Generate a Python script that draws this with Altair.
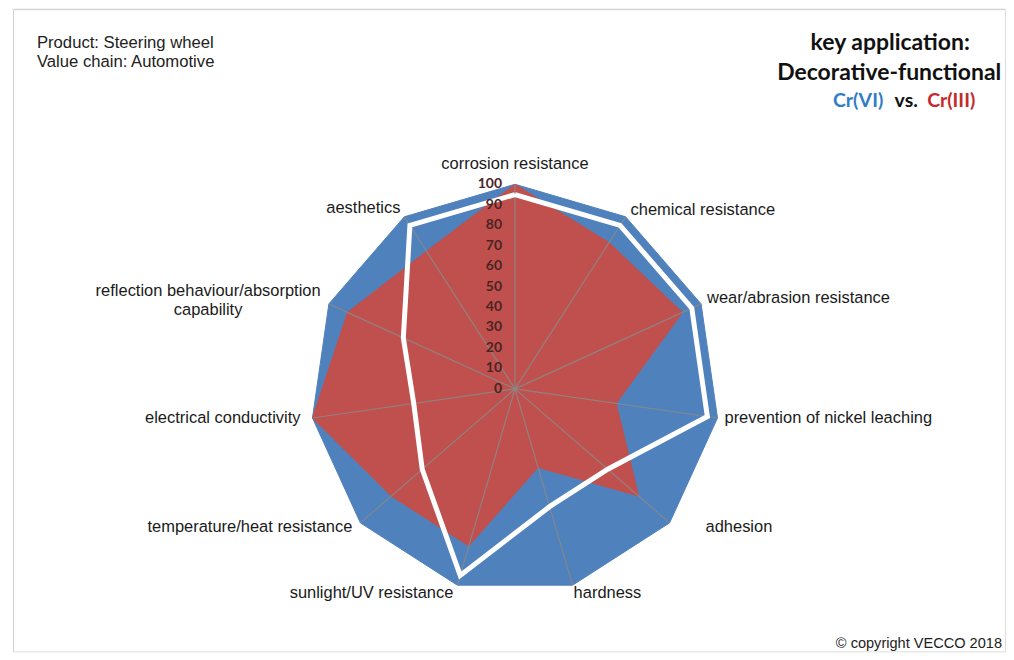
import altair as alt
import pandas as pd

# ---------------- data ----------------
categories = [
    "corrosion resistance",
    "chemical resistance",
    "wear/abrasion resistance",
    "prevention of nickel leaching",
    "adhesion",
    "hardness",
    "sunlight/UV resistance",
    "temperature/heat resistance",
    "electrical conductivity",
    "reflection behaviour/absorption\ncapability",
    "aesthetics",
]
cr_vi = [100, 100, 100, 100, 100, 100, 100, 100, 100, 100, 100]
cr_iii = [100, 85, 90, 50, 80, 40, 80, 80, 100, 90, 80]
requirement = [95, 95, 95, 95, 60, 60, 95, 60, 50, 60, 95]
tick_values = [0, 10, 20, 30, 40, 50, 60, 70, 80, 90, 100]

N = len(categories)

# ---------------- layout / style ----------------
W, H = 994, 644
CX, CY = 503, 381          # pixel position of the radar centre in plot area
PX = 2.05                  # pixels per value unit
BLUE = "#4F81BD"
RED = "#C0504D"
FONT = "Liberation Sans"

xdom = [-CX / PX, (W - CX) / PX]
ydom = [-(H - CY) / PX, CY / PX]
xscale = alt.Scale(domain=xdom, nice=False, zero=False)
yscale = alt.Scale(domain=ydom, nice=False, zero=False)

rows = []
for name, vals in (("Cr(VI)", cr_vi), ("Cr(III)", cr_iii), ("requirement", requirement)):
    for i in range(N + 1):
        rows.append({"series": name, "idx": i, "value": vals[i % N]})
poly_df = pd.DataFrame(rows)
cat_df = pd.DataFrame({"idx": list(range(N)), "label": categories})
tick_df = pd.DataFrame({"tick": tick_values})

ANG = "datum.idx * 2 * PI / %d" % N


def polar(chart, val="datum.value"):
    return chart.transform_calculate(
        px=f"{val} * sin({ANG})", py=f"{val} * cos({ANG})"
    )


def poly(series):
    return polar(alt.Chart(poly_df).transform_filter(alt.datum.series == series))


enc = dict(
    x=alt.X("px:Q", scale=xscale, axis=None),
    y=alt.Y("py:Q", scale=yscale, axis=None),
    order=alt.Order("idx:Q"),
)

blue = poly("Cr(VI)").mark_line(fill=BLUE, stroke=BLUE, strokeWidth=1).encode(**enc)
red = poly("Cr(III)").mark_line(fill=RED, stroke=RED, strokeWidth=1).encode(**enc)
white = poly("requirement").mark_line(
    stroke="white", strokeWidth=5, strokeJoin="miter"
).encode(**enc)

spokes = (
    alt.Chart(cat_df)
    .transform_calculate(
        zero="0", sx=f"100 * sin({ANG})", sy=f"100 * cos({ANG})"
    )
    .mark_rule(color="#8a8a8a", strokeWidth=1.2, opacity=0.85)
    .encode(
        x=alt.X("zero:Q", scale=xscale, axis=None),
        y=alt.Y("zero:Q", scale=yscale, axis=None),
        x2="sx:Q",
        y2="sy:Q",
    )
)

ticks = (
    alt.Chart(tick_df)
    .transform_calculate(zero="0")
    .mark_text(align="right", baseline="middle", dx=-13, fontSize=14,
               font="Lato", fontWeight="bold", color="#4a2424")
    .encode(
        x=alt.X("zero:Q", scale=xscale, axis=None),
        y=alt.Y("tick:Q", scale=yscale, axis=None),
        text="tick:Q",
    )
)

# label placement (align, dx, dy) for each category around the radar
nudge = {
    0: ("center", 0, -20),
    1: ("left", 5, -7),
    2: ("left", 6, -6),
    3: ("left", 7, 0),
    4: ("left", 36, 4),
    5: ("left", 1, 8),
    6: ("right", -4, 8),
    7: ("right", -8, 4),
    8: ("right", -12, 0),
    9: ("center", -121, -13),
    10: ("right", -4, -9),
}
label_layers = []
for i, (al, dx, dy) in nudge.items():
    label_layers.append(
        polar(alt.Chart(cat_df).transform_filter(alt.datum.idx == i), "100")
        .mark_text(align=al, baseline="middle", dx=dx, dy=dy, fontSize=16.5,
                   font=FONT, color="#1a1a1a", lineBreak="\n", lineHeight=19)
        .encode(
            x=alt.X("px:Q", scale=xscale, axis=None),
            y=alt.Y("py:Q", scale=yscale, axis=None),
            text="label:N",
        )
    )

one = pd.DataFrame({"a": [0]})


def note(text, x, y, **kw):
    return alt.Chart(one).mark_text(text=text, **kw).encode(
        x=alt.value(x), y=alt.value(y)
    )


TITLE = dict(baseline="middle", font="Lato", fontWeight="bold")
notes = [
    note("Product: Steering wheel", 24, 34, align="left", baseline="middle",
         fontSize=16.7, font=FONT, color="#222222"),
    note("Value chain: Automotive", 24, 53, align="left", baseline="middle",
         fontSize=16.7, font=FONT, color="#222222"),
    note("key application:", 879, 34, align="center", fontSize=23,
         color="#111111", **TITLE),
    note("Decorative-functional", 878, 64, align="center", fontSize=23,
         color="#111111", **TITLE),
    note("Cr(VI)", 872, 93, align="right", fontSize=19.5, color="#2F7DC6", **TITLE),
    note("vs.", 895, 93, align="center", fontSize=19.5, color="#111111", **TITLE),
    note("Cr(III)", 916, 93, align="left", fontSize=19.5, color="#C42B2B", **TITLE),
    note("\u00a9 copyright VECCO 2018", 991, 644, align="right", baseline="bottom",
         fontSize=14.6, font=FONT, color="#222222"),
]

frame_top = alt.Chart(one).mark_rule(color="#cfcfcf", strokeWidth=1).encode(
    x=alt.value(0), x2=alt.value(W), y=alt.value(1)
)
frame_left = alt.Chart(one).mark_rule(color="#cfcfcf", strokeWidth=1).encode(
    x=alt.value(0.5), y=alt.value(1), y2=alt.value(H)
)

chart = (
    alt.layer(frame_top, frame_left, blue, red, spokes, white, ticks,
              *label_layers, *notes)
    .properties(width=W, height=H,
                padding={"left": 4, "top": 0, "right": 0, "bottom": 0})
    .configure_view(stroke=None, strokeWidth=0)
    .configure(background="white")
)

chart.save("out.html", embed_options={"renderer": "svg", "actions": False})
